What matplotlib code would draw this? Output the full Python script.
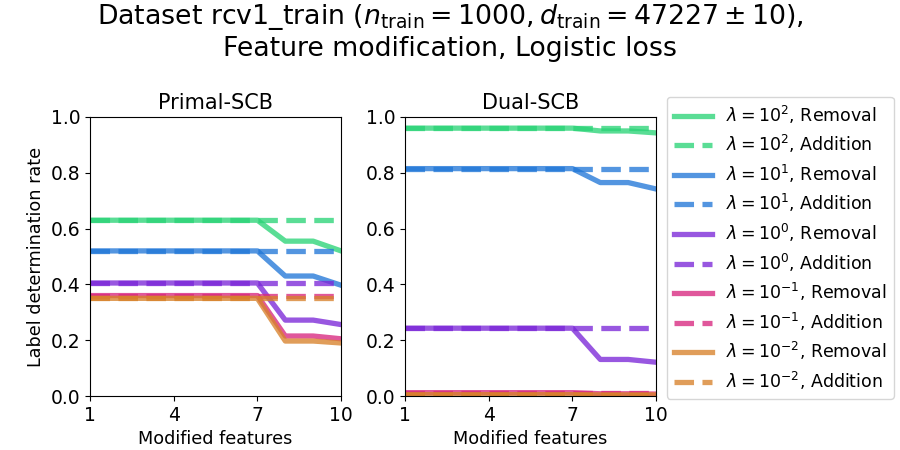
import numpy as np
import matplotlib.pyplot as plt

# modified feature counts
features = np.arange(1, 11)

lambdas = ['2', '1', '0', '-1', '-2']
colors = ['#2bd477', '#2278d8', '#7b28d8', '#d8287f', '#d8822b']

# Primal-SCB, removal / addition per lambda
primal_removal = {
    '2':  [0.63, 0.63, 0.63, 0.63, 0.63, 0.63, 0.63, 0.555, 0.555, 0.52],
    '1':  [0.52, 0.52, 0.52, 0.52, 0.52, 0.52, 0.52, 0.43, 0.43, 0.397],
    '0':  [0.405, 0.405, 0.405, 0.405, 0.405, 0.405, 0.405, 0.272, 0.272, 0.256],
    '-1': [0.36, 0.36, 0.36, 0.36, 0.36, 0.36, 0.36, 0.215, 0.215, 0.205],
    '-2': [0.35, 0.35, 0.35, 0.35, 0.35, 0.35, 0.35, 0.197, 0.197, 0.19],
}
primal_addition = {
    '2':  [0.63] * 10,
    '1':  [0.52] * 10,
    '0':  [0.405] * 10,
    '-1': [0.36] * 10,
    '-2': [0.35] * 10,
}

# Dual-SCB
dual_removal = {
    '2':  [0.96, 0.96, 0.96, 0.96, 0.96, 0.96, 0.96, 0.95, 0.95, 0.943],
    '1':  [0.815, 0.815, 0.815, 0.815, 0.815, 0.815, 0.815, 0.765, 0.765, 0.742],
    '0':  [0.243, 0.243, 0.243, 0.243, 0.243, 0.243, 0.243, 0.131, 0.131, 0.121],
    '-1': [0.012, 0.012, 0.012, 0.012, 0.012, 0.012, 0.012, 0.008, 0.008, 0.007],
    '-2': [0.005, 0.005, 0.005, 0.005, 0.005, 0.005, 0.005, 0.004, 0.004, 0.004],
}
dual_addition = {
    '2':  [0.96] * 10,
    '1':  [0.815] * 10,
    '0':  [0.243] * 10,
    '-1': [0.012] * 10,
    '-2': [0.005] * 10,
}

fig = plt.figure(figsize=(9, 4.5), dpi=100)
ax1 = fig.add_axes([0.100, 0.120, 0.279, 0.620])
ax2 = fig.add_axes([0.450, 0.120, 0.279, 0.620])

for ax, rem, add, title in [(ax1, primal_removal, primal_addition, 'Primal-SCB'),
                            (ax2, dual_removal, dual_addition, 'Dual-SCB')]:
    for lam, c in zip(lambdas, colors):
        ax.plot(features, rem[lam], color=c, lw=3.8, alpha=0.78,
                label=r'$\lambda = 10^{%s}$, Removal' % lam)
        ax.plot(features, add[lam], color=c, lw=3.8, alpha=0.78, linestyle='--',
                label=r'$\lambda = 10^{%s}$, Addition' % lam)
    ax.set_xlim(1, 10)
    ax.set_ylim(0, 1)
    ax.set_xticks([1, 4, 7, 10])
    ax.set_yticks([0.0, 0.2, 0.4, 0.6, 0.8, 1.0])
    ax.tick_params(labelsize=13.5)
    ax.set_xlabel('Modified features', fontsize=12.7)
    ax.set_title(title, fontsize=15)

ax1.set_ylabel('Label determination rate', fontsize=12.7)

handles, labels = ax2.get_legend_handles_labels()
fig.legend(handles, labels, loc='upper left', bbox_to_anchor=(0.741, 0.785),
           fontsize=12.5, labelspacing=0.43, handlelength=2.2, borderaxespad=0.0)

fig.suptitle('Dataset rcv1_train ($n_{\\mathrm{train}} = 1000, d_{\\mathrm{train}} = 47227 \\pm 10$),\n'
             'Feature modification, Logistic loss', fontsize=19.3, y=0.995)

plt.savefig('out.png', dpi=100)
